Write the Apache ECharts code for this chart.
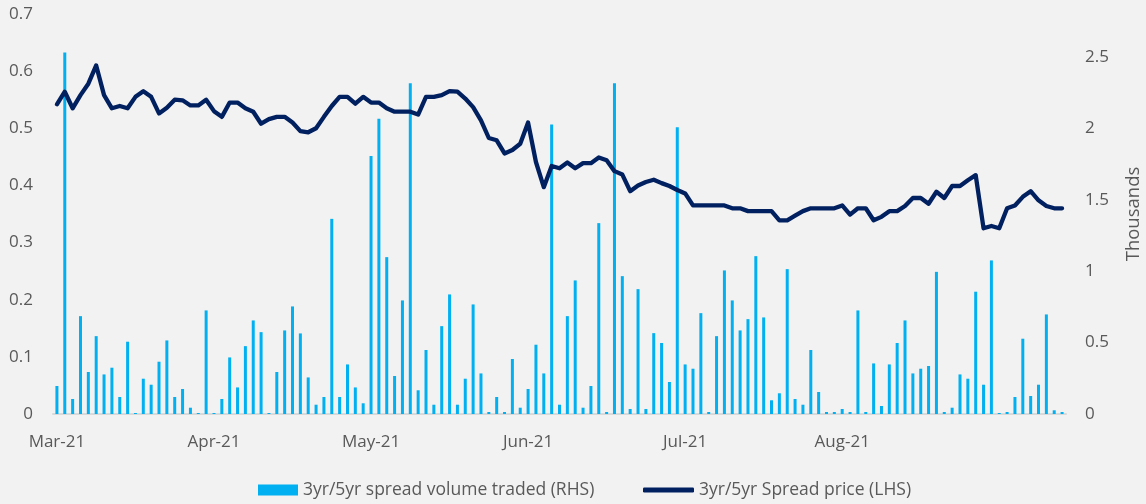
<!DOCTYPE html>
<html style="height: 100%">
<head>
<meta charset="UTF-8">
<script src="https://cdn.jsdelivr.net/npm/echarts@6/dist/echarts.min.js"></script>
</head>
<body style="height: 100%; margin: 0; background: #F2F2F2">
<div id="container" style="width: 1146px; height: 504px"></div>
<script type="text/javascript">
// monthly tick labels, one every 20 trading days
var monthTicks = ['Mar-21', 'Apr-21', 'May-21', 'Jun-21', 'Jul-21', 'Aug-21'];

// 3yr/5yr spread volume traded, thousands (RHS)
var volume = [
  0.196, 2.53, 0.105, 0.685, 0.294, 0.545, 0.277, 0.324, 0.119, 0.506, 0.007, 0.247, 0.205, 0.366, 0.515, 0.119,
  0.175, 0.044, 0.007, 0.725, 0.007, 0.105, 0.396, 0.186, 0.475, 0.655, 0.573, 0.007, 0.294, 0.585, 0.753, 0.564,
  0.256, 0.065, 0.119, 1.366, 0.119, 0.347, 0.186, 0.075, 1.806, 2.067, 1.098, 0.266, 0.795, 2.315, 0.166, 0.448,
  0.065, 0.615, 0.837, 0.065, 0.247, 0.767, 0.284, 0.014, 0.119, 0.014, 0.385, 0.044, 0.175, 0.485, 0.284, 2.026,
  0.065, 0.685, 0.935, 0.044, 0.196, 1.336, 0.014, 2.315, 0.965, 0.035, 0.874, 0.035, 0.566, 0.497, 0.224, 2.007,
  0.347, 0.317, 0.706, 0.014, 0.545, 1.005, 0.795, 0.585, 0.664, 1.105, 0.676, 0.096, 0.145, 1.014, 0.105, 0.065,
  0.448, 0.154, 0.014, 0.014, 0.035, 0.014, 0.725, 0.014, 0.354, 0.056, 0.347, 0.497, 0.655, 0.284, 0.317, 0.336,
  0.995, 0.014, 0.044, 0.277, 0.247, 0.856, 0.205, 1.075, 0.007, 0.014, 0.119, 0.527, 0.126, 0.205, 0.697, 0.026, 0.014
];

// 3yr/5yr spread price (LHS)
var price = [
  0.542, 0.564, 0.535, 0.558, 0.578, 0.610, 0.558, 0.535, 0.539, 0.535, 0.555, 0.565, 0.555, 0.526, 0.536, 0.550,
  0.549, 0.540, 0.540, 0.550, 0.530, 0.520, 0.545, 0.545, 0.535, 0.529, 0.508, 0.516, 0.520, 0.520, 0.510, 0.495,
  0.493, 0.500, 0.520, 0.539, 0.555, 0.555, 0.543, 0.555, 0.545, 0.545, 0.535, 0.529, 0.529, 0.529, 0.524, 0.555,
  0.555, 0.558, 0.565, 0.564, 0.552, 0.537, 0.514, 0.483, 0.479, 0.456, 0.462, 0.473, 0.510, 0.441, 0.397, 0.434,
  0.430, 0.440, 0.430, 0.439, 0.439, 0.449, 0.444, 0.425, 0.419, 0.390, 0.400, 0.406, 0.410, 0.404, 0.399, 0.392,
  0.386, 0.365, 0.365, 0.365, 0.365, 0.365, 0.360, 0.360, 0.355, 0.355, 0.355, 0.355, 0.339, 0.339, 0.347, 0.355,
  0.360, 0.360, 0.360, 0.360, 0.365, 0.349, 0.360, 0.360, 0.339, 0.345, 0.355, 0.355, 0.364, 0.378, 0.378, 0.368,
  0.389, 0.378, 0.399, 0.399, 0.409, 0.418, 0.325, 0.329, 0.325, 0.360, 0.365, 0.380, 0.390, 0.374, 0.364, 0.360, 0.360
];

var barName = '3yr/5yr spread volume traded (RHS)';
var lineName = '3yr/5yr Spread price (LHS)';

var days = volume.map(function (v, i) { return String(i); });

var textColor = '#595959';
var font = 'Open Sans';

var dom = document.getElementById('container');
var myChart = echarts.init(dom);
var option = {
  backgroundColor: '#F2F2F2',
  animation: false,
  textStyle: { fontFamily: font },
  grid: { left: 53, right: 80, top: 14, bottom: 90, containLabel: false, outerBoundsMode: 'none' },
  legend: [{
    data: [{ name: barName, icon: 'rect' }],
    left: 258, top: 481, padding: 0,
    itemWidth: 40, itemHeight: 11,
    textStyle: { color: textColor, fontSize: 17.5, fontFamily: font }
  }, {
    data: [{ name: lineName, icon: 'roundRect' }],
    left: 643, top: 481, padding: 0,
    itemWidth: 51, itemHeight: 5,
    textStyle: { color: textColor, fontSize: 17.5, fontFamily: font }
  }],
  xAxis: {
    type: 'category',
    data: days,
    axisLine: { lineStyle: { color: '#D9D9D9', width: 2 } },
    axisTick: { show: false },
    axisLabel: {
      interval: 19,
      margin: 20,
      color: textColor,
      fontSize: 17,
      formatter: function (v) { return monthTicks[Number(v) / 20] || ''; }
    }
  },
  yAxis: [{
    type: 'value',
    position: 'left',
    min: 0, max: 0.7, interval: 0.1,
    splitLine: { show: false },
    axisLine: { show: false },
    axisTick: { show: false },
    axisLabel: { margin: 20, color: textColor, fontSize: 17 }
  }, {
    type: 'value',
    position: 'right',
    min: 0, max: 2.8, interval: 0.5,
    name: 'Thousands',
    nameLocation: 'middle',
    nameGap: 58,
    nameTextStyle: { color: textColor, fontSize: 18.5 },
    splitLine: { show: false },
    axisLine: { show: false },
    axisTick: { show: false },
    axisLabel: { margin: 19, color: textColor, fontSize: 17, showMaxLabel: false }
  }],
  series: [{
    name: barName,
    type: 'bar',
    yAxisIndex: 1,
    data: volume,
    barWidth: 3,
    itemStyle: { color: '#00B0F0' }
  }, {
    name: lineName,
    type: 'line',
    yAxisIndex: 0,
    data: price,
    symbol: 'none',
    lineStyle: { color: '#002060', width: 4.3, join: 'round', cap: 'round' },
    itemStyle: { color: '#002060' }
  }]
};
myChart.setOption(option);
</script>
</body>
</html>
